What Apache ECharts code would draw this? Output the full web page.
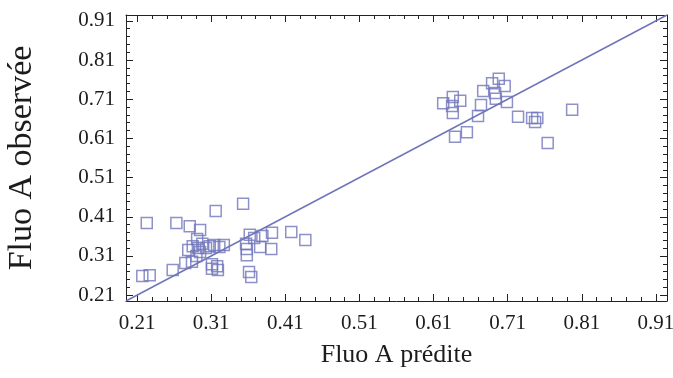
<!DOCTYPE html>
<html>
<head>
<meta charset="utf-8">
<script src="https://cdn.jsdelivr.net/npm/echarts@6/dist/echarts.min.js"></script>
<style>
  html, body { margin: 0; padding: 0; background: #fff; }
  #chart { width: 673px; height: 378px; }
</style>
</head>
<body>
<div id="chart"></div>
<script>
// bornes communes aux deux axes (la droite y = x va de coin a coin)
var axisMin = 0.195;
var axisMax = 0.925;
// graduations principales
var majorTicks = [0.21, 0.31, 0.41, 0.51, 0.61, 0.71, 0.81, 0.91];

// Fluo A predite (x) / observee (y)
var predLow = [0.223, 0.217, 0.227, 0.263, 0.281, 0.295, 0.316, 0.353, 0.258, 0.275,
  0.284, 0.291, 0.279, 0.285, 0.292, 0.298, 0.303, 0.308, 0.314, 0.321,
  0.327, 0.295, 0.290, 0.311, 0.318, 0.311, 0.319, 0.362, 0.357, 0.358,
  0.358, 0.376, 0.391, 0.392, 0.418, 0.437, 0.361, 0.364, 0.379, 0.368];
var obsLow = [0.394, 0.259, 0.261, 0.394, 0.386, 0.376, 0.425, 0.443, 0.274, 0.292,
  0.295, 0.353, 0.325, 0.335, 0.330, 0.341, 0.330, 0.335, 0.338, 0.333,
  0.338, 0.320, 0.310, 0.289, 0.284, 0.277, 0.274, 0.364, 0.341, 0.328,
  0.312, 0.333, 0.328, 0.369, 0.371, 0.351, 0.269, 0.256, 0.361, 0.356];
var predHigh = [0.623, 0.636, 0.646, 0.635, 0.636, 0.639, 0.655, 0.670, 0.674, 0.677,
  0.689, 0.698, 0.706, 0.693, 0.694, 0.709, 0.724, 0.743, 0.750, 0.747,
  0.764, 0.797];
var obsHigh = [0.700, 0.716, 0.706, 0.693, 0.675, 0.614, 0.626, 0.667, 0.695, 0.731,
  0.751, 0.762, 0.744, 0.726, 0.711, 0.703, 0.665, 0.662, 0.662, 0.652,
  0.598, 0.683];

var markColor = '#7075ba';
var frameColor = '#222';
var textColor = '#1c1c1c';
var serif = '"Liberation Serif", "DejaVu Serif", serif';

function buildPoints() {
  var pts = [];
  var i;
  for (i = 0; i < predLow.length; i++) pts.push([predLow[i], obsLow[i]]);
  for (i = 0; i < predHigh.length; i++) pts.push([predHigh[i], obsHigh[i]]);
  return pts;
}

// petites graduations tous les 0.02
function buildMinorTicks() {
  var out = [];
  for (var k = 0; k < majorTicks.length - 1; k++) {
    for (var j = 1; j < 5; j++) {
      out.push(+(majorTicks[k] + j * 0.02).toFixed(3));
    }
  }
  return out;
}
var minorTicks = buildMinorTicks();

function axis(dir, position, ticks, len, showLine, label, extra) {
  var a = {
    type: 'value',
    position: position,
    min: axisMin,
    max: axisMax,
    splitLine: { show: false },
    axisLine: { show: showLine, onZero: false, lineStyle: { color: frameColor, width: 1 } },
    axisTick: {
      show: true, inside: true, length: len, customValues: ticks,
      lineStyle: { color: frameColor, width: 1 }
    },
    axisLabel: label ? {
      show: true, customValues: majorTicks,
      fontFamily: serif, fontSize: 21, color: textColor,
      margin: dir === 'x' ? 12 : 11,
      formatter: function(v) { return v.toFixed(2); }
    } : { show: false }
  };
  for (var key in extra) a[key] = extra[key];
  return a;
}

var chart = echarts.init(document.getElementById('chart'), null, { renderer: 'canvas' });

var option = {
  animation: false,
  backgroundColor: '#fff',
  grid: { left: 126, right: 6, top: 15, bottom: 77, outerBoundsMode: 'none' },
  xAxis: [
    axis('x', 'bottom', majorTicks, 7, true, true, {
      name: 'Fluo A prédite', nameLocation: 'middle', nameGap: 41,
      nameTextStyle: { fontFamily: serif, fontSize: 26, color: textColor }
    }),
    axis('x', 'bottom', minorTicks, 4, false, false, {}),
    axis('x', 'top', majorTicks, 7, true, false, {}),
    axis('x', 'top', minorTicks, 4, false, false, {})
  ],
  yAxis: [
    axis('y', 'left', majorTicks, 7, true, true, {
      name: 'Fluo A observée', nameLocation: 'middle', nameGap: 87,
      nameTextStyle: { fontFamily: serif, fontSize: 34, color: textColor }
    }),
    axis('y', 'left', minorTicks, 4, false, false, {}),
    axis('y', 'right', majorTicks, 7, true, false, {}),
    axis('y', 'right', minorTicks, 4, false, false, {})
  ],
  series: [
    {
      // droite y = x
      type: 'line',
      data: [[axisMin, axisMin], [axisMax, axisMax]],
      symbol: 'none',
      lineStyle: { color: markColor, width: 1.5 },
      z: 1
    },
    {
      type: 'scatter',
      data: buildPoints(),
      symbol: 'rect',
      symbolSize: 11,
      itemStyle: { color: 'rgba(0,0,0,0)', borderColor: markColor, borderWidth: 1.5 },
      z: 2
    }
  ]
};
chart.setOption(option);
</script>
</body>
</html>
